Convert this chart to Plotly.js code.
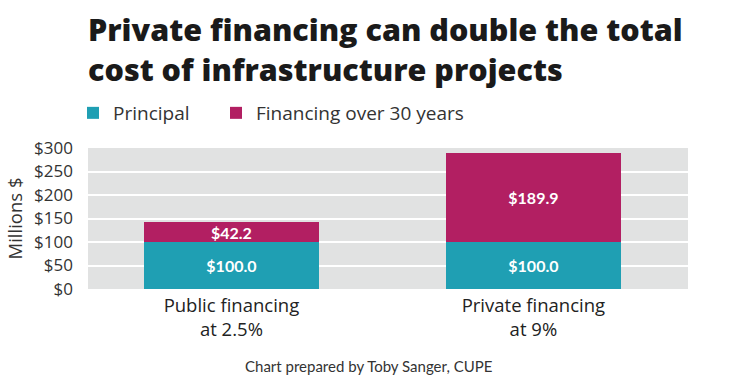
<!DOCTYPE html>
<html>
<head>
<meta charset="utf-8">
<script src="https://cdn.plot.ly/plotly-3.0.1.min.js"></script>
<style>html,body{margin:0;padding:0;background:#fff;}#chart{width:735px;height:384px;}</style>
</head>
<body>
<div id="chart"></div>
<script>
const categories = ["Public financing<br>at 2.5%", "Private financing<br>at 9%"];
const principal = [100.0, 100.0];
const financing = [42.2, 189.9];
const seriesNames = ["Principal", "Financing over 30 years"];
const yTicks = [0, 50, 100, 150, 200, 250, 300];
const titleLines = ["Private financing can double the total", "cost of infrastructure projects"];
const sourceText = "Chart prepared by Toby Sanger, CUPE";

const fmt = v => "$" + v.toFixed(1);
const FONT = "Lato, 'Open Sans', sans-serif";
const OFONT = "'Open Sans', Lato, sans-serif";

const traces = [
  {
    type: "bar", name: seriesNames[0], x: categories, y: principal,
    marker: {color: "#1f9fb3"}, width: 0.58, legend: "legend",
    text: principal.map(fmt), textposition: "inside", insidetextanchor: "middle",
    textangle: 0, constraintext: "none",
    textfont: {family: FONT, size: 16, color: "#ffffff", weight: 700},
    hoverinfo: "skip"
  },
  {
    type: "bar", name: seriesNames[1], x: categories, y: financing,
    marker: {color: "#b21f62"}, width: 0.58, legend: "legend2",
    text: financing.map(fmt), textposition: "inside", insidetextanchor: "middle",
    textangle: 0, constraintext: "none",
    textfont: {family: FONT, size: 16, color: "#ffffff", weight: 700},
    hoverinfo: "skip"
  }
];

const py = y => (289 - y) / 141;
const legendBase = {
  orientation: "h",
  xref: "paper", xanchor: "left",
  yref: "container", y: 1 - 113/384, yanchor: "middle",
  font: {family: OFONT, size: 19, color: "#333"}
};

const layout = {
  width: 735, height: 384,
  margin: {l: 88, r: 47, t: 148, b: 95},
  paper_bgcolor: "#ffffff",
  plot_bgcolor: "#e1e2e2",
  barmode: "stack",
  font: {family: FONT, color: "#222"},
  showlegend: true,
  legend: Object.assign({}, legendBase, {x: -0.025}),
  legend2: Object.assign({}, legendBase, {x: (216 - 88) / 600}),
  xaxis: {
    type: "category",
    range: [-0.475, 1.512],
    showgrid: false, zeroline: false, showline: false, ticks: "",
    ticklabelstandoff: 3,
    tickfont: {family: OFONT, size: 18.5, color: "#222"}
  },
  yaxis: {
    range: [0, 300],
    tickvals: yTicks,
    ticktext: yTicks.map(v => "$" + v),
    showgrid: true, gridcolor: "#ffffff", gridwidth: 2,
    zeroline: false, showline: false, ticks: "",
    ticklabelstandoff: 14,
    tickfont: {family: OFONT, size: 17, color: "#333"},
    title: {text: "Millions $", font: {family: OFONT, size: 18.5, color: "#333"}, standoff: 6}
  },
  annotations: [
    {
      text: titleLines.join("<br>"),
      xref: "paper", yref: "paper", x: -0.003, y: py(49),
      xanchor: "left", yanchor: "middle", align: "left", showarrow: false,
      font: {family: OFONT, size: 30.5, color: "#1a1a1a", weight: 800}
    },
    {
      text: sourceText,
      xref: "paper", yref: "paper", x: (368 - 88) / 600, y: py(366),
      xanchor: "center", yanchor: "middle", showarrow: false,
      font: {family: FONT, size: 15, color: "#333"}
    }
  ]
};

Plotly.newPlot("chart", traces, layout, {displayModeBar: false, staticPlot: true});
</script>
</body>
</html>
